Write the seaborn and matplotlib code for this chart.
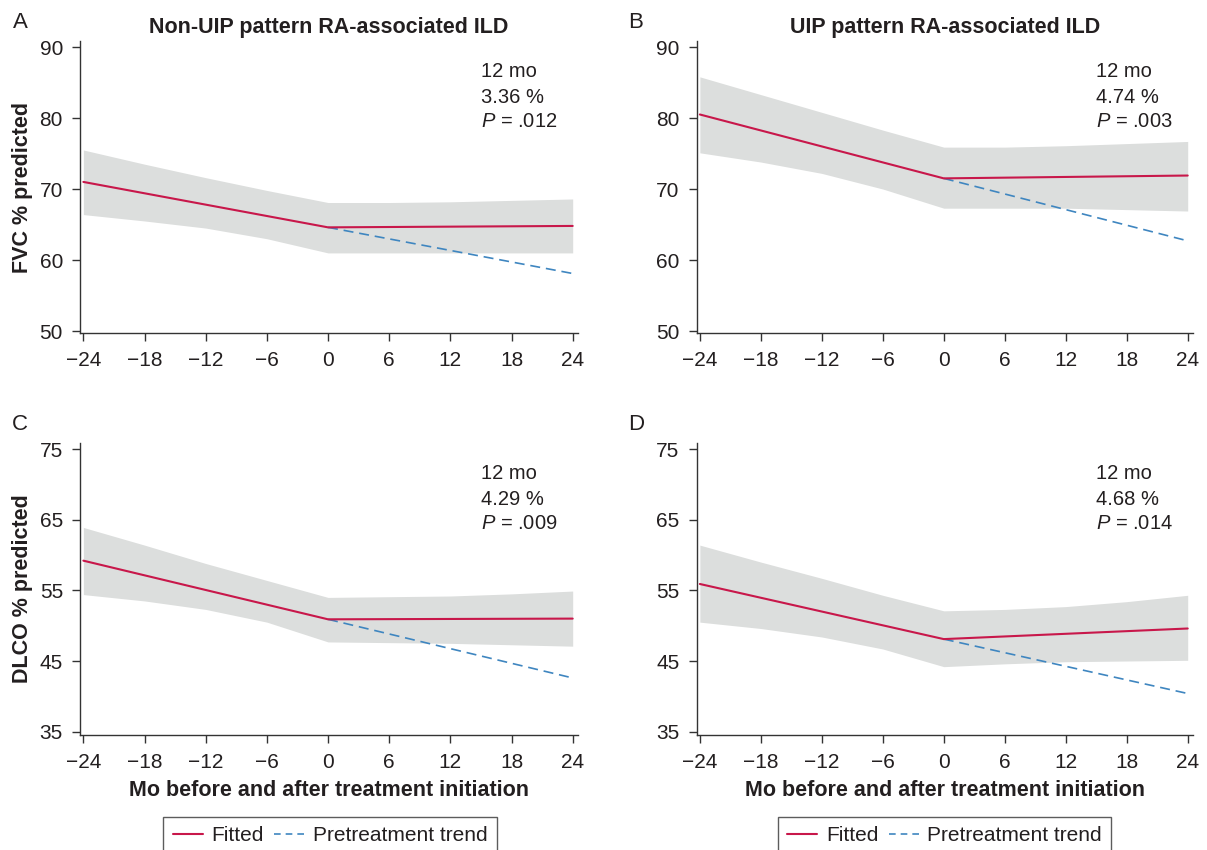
import numpy as np
import pandas as pd
import matplotlib
matplotlib.use("Agg")
import matplotlib.pyplot as plt
from matplotlib.lines import Line2D
import seaborn as sns

# ---------------- data ----------------
band_months = [-24, -18, -12, -6, 0, 6, 12, 18, 24]
fit_months = [-24, 0, 24]
trend_months = [0, 24]

titles = ["Non-UIP pattern RA-associated ILD", "UIP pattern RA-associated ILD", "", ""]
letters = ["A", "B", "C", "D"]
ylabels = ["FVC % predicted", "", "DLCO % predicted", ""]

fit_A = [71.0, 64.6, 64.8]
trend_A = [64.6, 58.1]
upper_A = [75.5, 73.5, 71.6, 69.8, 68.1, 68.1, 68.2, 68.4, 68.6]
lower_A = [66.4, 65.5, 64.5, 63.0, 61.0, 61.0, 61.0, 61.0, 61.0]

fit_B = [80.5, 71.5, 71.9]
trend_B = [71.5, 62.7]
upper_B = [85.8, 83.3, 80.8, 78.3, 75.9, 75.9, 76.1, 76.4, 76.7]
lower_B = [75.1, 73.8, 72.2, 70.0, 67.3, 67.3, 67.3, 67.1, 66.9]

fit_C = [59.2, 50.9, 51.0]
trend_C = [50.9, 42.6]
upper_C = [63.9, 61.4, 58.8, 56.4, 54.0, 54.1, 54.2, 54.5, 54.9]
lower_C = [54.4, 53.5, 52.3, 50.5, 47.7, 47.6, 47.5, 47.3, 47.1]

fit_D = [55.9, 48.1, 49.6]
trend_D = [48.1, 40.4]
upper_D = [61.4, 59.0, 56.7, 54.3, 52.1, 52.3, 52.7, 53.4, 54.3]
lower_D = [50.5, 49.6, 48.4, 46.7, 44.2, 44.6, 44.9, 45.0, 45.1]

annot_months = ["12 mo", "12 mo", "12 mo", "12 mo"]
annot_pct = ["3.36 %", "4.74 %", "4.29 %", "4.68 %"]
annot_p = [".012", ".003", ".009", ".014"]

fvc_ticks = [50, 60, 70, 80, 90]
dlco_ticks = [35, 45, 55, 65, 75]
x_ticks = [-24, -18, -12, -6, 0, 6, 12, 18, 24]
x_ticklabels = ["\u221224", "\u221218", "\u221212", "\u22126", "0", "6", "12", "18", "24"]

legend_labels = ["Fitted", "Pretreatment trend"]

# ---------------- style ----------------
sns.set_style("ticks")
plt.rcParams["font.family"] = ["Liberation Sans", "DejaVu Sans"]
plt.rcParams["mathtext.fontset"] = "custom"
plt.rcParams["mathtext.it"] = "Liberation Sans:italic"
plt.rcParams["mathtext.rm"] = "Liberation Sans"

FIT_COLOR = "#c8174a"
TREND_COLOR = "#3f86c0"
BAND_COLOR = "#dcdedd"
AX_COLOR = "#333333"
TXT_COLOR = "#231f20"

fig = plt.figure(figsize=(12.07, 8.5), dpi=100)

W, H = 1207, 850
def pos(l, r, top, bottom):
    return [l / W, 1 - bottom / H, (r - l) / W, (bottom - top) / H]

axes = [
    fig.add_axes(pos(80, 578.3, 41, 333)),
    fig.add_axes(pos(696.5, 1193.3, 41, 333)),
    fig.add_axes(pos(80, 578.3, 443, 735)),
    fig.add_axes(pos(696.5, 1193.3, 443, 735)),
]

panels = [
    (fit_A, trend_A, upper_A, lower_A, fvc_ticks, (49.72, 90.85)),
    (fit_B, trend_B, upper_B, lower_B, fvc_ticks, (49.72, 90.85)),
    (fit_C, trend_C, upper_C, lower_C, dlco_ticks, (34.53, 75.85)),
    (fit_D, trend_D, upper_D, lower_D, dlco_ticks, (34.53, 75.85)),
]

for i, (ax, (fit, trend, up, lo, yt, ylim)) in enumerate(zip(axes, panels)):
    ax.fill_between(band_months, lo, up, color=BAND_COLOR, lw=0, zorder=1)
    df_fit = pd.DataFrame({"month": fit_months, "value": fit})
    df_tr = pd.DataFrame({"month": trend_months, "value": trend})
    sns.lineplot(data=df_tr, x="month", y="value", ax=ax, color=TREND_COLOR,
                 lw=1.2, linestyle=(0, (6, 3.5)), zorder=2, legend=False)
    sns.lineplot(data=df_fit, x="month", y="value", ax=ax, color=FIT_COLOR,
                 lw=1.5, zorder=3, legend=False)
    ax.set_xlim(-24.33, 24.55)
    ax.set_ylim(*ylim)
    ax.set_xticks(x_ticks)
    ax.set_xticklabels(x_ticklabels)
    ax.set_yticks(yt)
    for s in ["top", "right"]:
        ax.spines[s].set_visible(False)
    for s in ["left", "bottom"]:
        ax.spines[s].set_color(AX_COLOR)
        ax.spines[s].set_linewidth(1.0)
    ax.tick_params(axis="both", direction="out", length=5.8, width=1.0,
                   color=AX_COLOR, labelsize=15, labelcolor=TXT_COLOR)
    ax.tick_params(axis="x", pad=7)
    ax.tick_params(axis="y", pad=6.5)
    ax.set_ylabel(ylabels[i], fontsize=15.5, fontweight="bold", color=TXT_COLOR, labelpad=5)
    if i >= 2:
        ax.set_xlabel("Mo before and after treatment initiation", fontsize=15.5,
                      fontweight="bold", color=TXT_COLOR, labelpad=6)
    else:
        ax.set_xlabel("")
    if titles[i]:
        ax.set_title(titles[i], fontsize=15.5, fontweight="bold", color=TXT_COLOR, pad=6)
    # annotations
    ax.text(0.804, 0.878, annot_months[i], transform=ax.transAxes, fontsize=14.5,
            color=TXT_COLOR, va="baseline", ha="left")
    ax.text(0.804, 0.787, annot_pct[i], transform=ax.transAxes, fontsize=14.5,
            color=TXT_COLOR, va="baseline", ha="left")
    ax.text(0.804, 0.704, r"$\it{P}$ = " + annot_p[i], transform=ax.transAxes, fontsize=14.5,
            color=TXT_COLOR, va="baseline", ha="left")

# panel letters
for (x, y), letter in zip([(20, 23), (636, 23), (20, 425), (636, 425)], letters):
    fig.text(x / W, 1 - y / H, letter, fontsize=16, color=TXT_COLOR, ha="center", va="center")

# legends
handles = [Line2D([], [], color=FIT_COLOR, lw=1.5),
           Line2D([], [], color=TREND_COLOR, lw=1.2, linestyle=(0, (4, 3)))]
for cx in [330, 944.5]:
    leg = fig.legend(handles, legend_labels, loc="upper center",
                     bbox_to_anchor=(cx / W, 1 - 817 / H), ncol=2, frameon=True,
                     fontsize=15, handlelength=1.45, columnspacing=0.5, handletextpad=0.4,
                     borderpad=0.45, fancybox=False, borderaxespad=0)
    leg.get_frame().set_edgecolor(AX_COLOR)
    leg.get_frame().set_linewidth(1.0)
    for t in leg.get_texts():
        t.set_color(TXT_COLOR)

fig.savefig("out.png", dpi=100)
